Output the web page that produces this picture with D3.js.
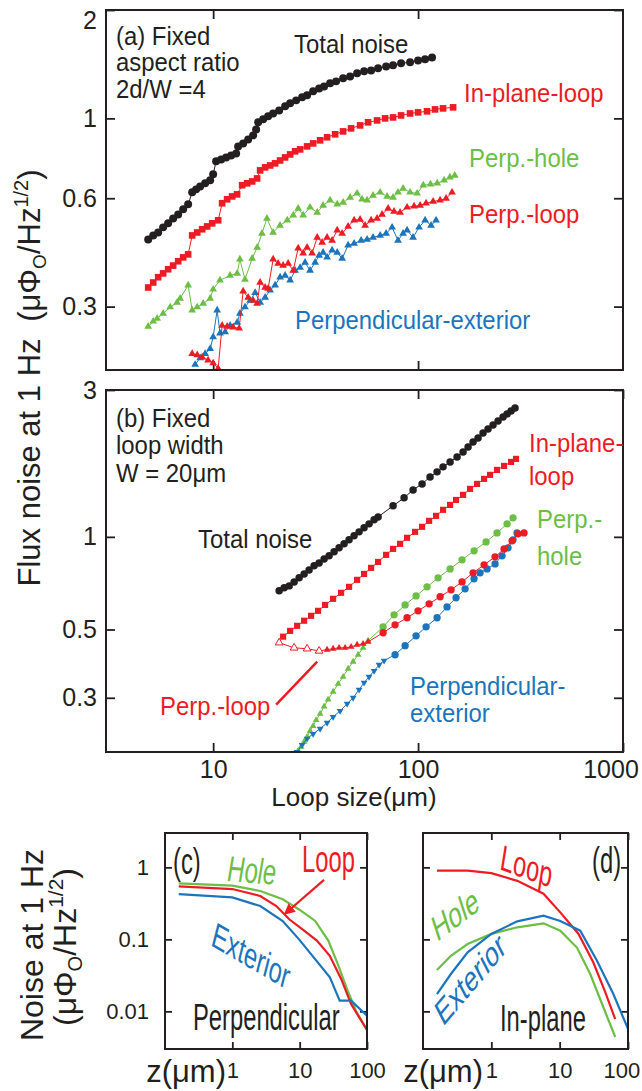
<!DOCTYPE html>
<html>
<head>
<meta charset="utf-8">
<title>Flux noise vs loop size</title>
<script src="https://cdn.jsdelivr.net/npm/d3@7"></script>
<style>
  body { margin: 0; background: #fff; }
  svg text { font-family: "Liberation Sans", Arial, Helvetica, sans-serif; }
</style>
</head>
<body>
<svg id="chart" width="642" height="1091"></svg>
<script>
// values: [loop size (um), noise at 1 Hz (uPhi0/Hz^1/2)]

// (a) fixed aspect ratio
const aTotal = [[4.82,0.461],[5.10,0.473],[5.39,0.482],[5.70,0.498],[6.03,0.511],[6.38,0.527],[6.75,0.541],[7.14,0.559],[7.55,0.577],[7.90,0.623],[8.26,0.635],[8.64,0.647],[9.14,0.660],[9.67,0.673],[10.0,0.699],[10.34,0.760],[10.94,0.769],[11.57,0.779],[12.24,0.789],[12.95,0.799],[13.24,0.836],[14.01,0.852],[14.82,0.874],[15.67,0.897],[16.21,0.932],[16.58,0.975],[17.54,0.994],[18.55,1.013],[19.62,1.032],[20.99,1.052],[22.45,1.080],[23.75,1.101],[25.41,1.122],[27.18,1.144],[28.74,1.159],[30.75,1.189],[32.89,1.211],[34.79,1.227],[37.21,1.251],[39.81,1.267],[43.07,1.292],[46.58,1.308],[50.40,1.334],[54.53,1.351],[58.98,1.359],[63.81,1.377],[69.83,1.394],[75.51,1.404],[82.60,1.422],[91.41,1.431],[100,1.449],[108.2,1.459],[117.0,1.477]];
const aInPlane = [[4.82,0.339],[5.10,0.350],[5.39,0.362],[5.70,0.371],[6.03,0.381],[6.38,0.390],[6.75,0.401],[7.14,0.411],[7.55,0.419],[7.90,0.473],[8.36,0.482],[8.84,0.492],[9.35,0.501],[9.89,0.511],[10.58,0.521],[11.06,0.581],[11.70,0.596],[12.38,0.607],[13.09,0.615],[13.85,0.652],[14.65,0.660],[15.50,0.668],[16.39,0.681],[16.95,0.717],[17.93,0.731],[18.97,0.740],[20.06,0.750],[21.22,0.764],[22.45,0.779],[23.75,0.794],[25.12,0.810],[26.57,0.820],[28.74,0.836],[30.75,0.852],[33.26,0.869],[35.98,0.886],[39.37,0.903],[43.07,0.920],[47.11,0.938],[52.13,0.956],[57.03,0.975],[63.10,0.987],[69.02,1.0],[75.51,1.006],[82.60,1.019],[91.41,1.032],[100,1.039],[110.6,1.046],[121.0,1.059],[132.4,1.066],[148.2,1.073]];
const aPerpHole = [[4.82,0.264],[5.10,0.273],[5.33,0.278],[5.70,0.287],[6.17,0.299],[6.67,0.308],[6.90,0.316],[7.55,0.344],[7.90,0.293],[8.36,0.299],[8.94,0.306],[9.67,0.316],[10.0,0.335],[10.8,0.355],[12.1,0.366],[13.1,0.371],[13.5,0.406],[14.3,0.357],[15.5,0.408],[16.4,0.438],[17.3,0.479],[18.3,0.527],[19.6,0.482],[21.2,0.504],[23.0,0.521],[24.6,0.538],[26.0,0.562],[27.5,0.538],[29.7,0.566],[32.2,0.548],[34.4,0.573],[37.2,0.592],[40.3,0.577],[43.1,0.584],[46.6,0.603],[50.4,0.619],[53.3,0.596],[56.4,0.592],[60.3,0.611],[65.3,0.623],[70.6,0.607],[75.5,0.603],[79.8,0.623],[84.5,0.639],[91.4,0.623],[98.9,0.619],[106,0.652],[115,0.656],[124,0.660],[134,0.673],[143,0.686],[151,0.694]];
const aPerpLoop = [[7.90,0.222],[8.36,0.220],[8.84,0.217],[9.45,0.213],[10.0,0.209],[10.58,0.202],[11.06,0.266],[11.70,0.264],[12.52,0.263],[13.39,0.261],[14.01,0.331],[14.82,0.318],[15.67,0.312],[16.39,0.306],[16.95,0.350],[17.93,0.339],[18.55,0.337],[19.62,0.406],[20.75,0.395],[21.95,0.390],[23.23,0.395],[24.6,0.378],[26.0,0.436],[27.5,0.422],[28.74,0.438],[30.40,0.422],[32.2,0.467],[34.02,0.452],[35.98,0.467],[38.06,0.458],[40.3,0.489],[42.6,0.479],[45.56,0.501],[48.74,0.521],[52.13,0.524],[55.14,0.504],[58.98,0.521],[63.10,0.527],[66.74,0.541],[71.42,0.562],[76.3,0.551],[81.69,0.548],[88.38,0.566],[95.61,0.570],[102.3,0.573],[109.4,0.581],[118.4,0.588],[128.1,0.592],[137.0,0.599],[146.5,0.623]];
const aPerpExt = [[8.17,0.207],[8.64,0.216],[9.14,0.222],[9.67,0.229],[10.0,0.247],[10.46,0.293],[10.8,0.253],[11.44,0.255],[12.1,0.266],[13.1,0.271],[13.5,0.287],[14.3,0.299],[15.15,0.312],[16.03,0.328],[16.95,0.308],[17.93,0.318],[18.97,0.333],[20.06,0.344],[21.22,0.362],[22.45,0.366],[23.75,0.355],[25.12,0.378],[26.57,0.385],[28.10,0.398],[29.7,0.378],[31.45,0.398],[32.89,0.416],[34.4,0.424],[35.98,0.411],[38.06,0.430],[40.3,0.424],[42.6,0.408],[45.56,0.444],[48.74,0.449],[52.72,0.458],[56.4,0.461],[60.3,0.467],[65.3,0.473],[69.83,0.479],[74.70,0.498],[79.8,0.458],[84.5,0.479],[88.38,0.489],[94.54,0.467],[101.1,0.498],[108.2,0.521],[115.7,0.504],[122.4,0.521]];

// (b) fixed loop width
const bTotal = [[20.99,0.668],[22.21,0.683],[23.49,0.693],[24.84,0.714],[26.28,0.736],[27.79,0.758],[29.39,0.781],[31.09,0.805],[32.89,0.823],[34.79,0.848],[36.80,0.868],[38.92,0.894],[41.17,0.921],[43.55,0.949],[46.06,0.978],[48.72,1.008],[51.53,1.038],[54.51,1.070],[57.67,1.102],[61.00,1.136],[63.81,1.161],[75.51,1.261],[85.45,1.339],[94.54,1.421],[104.6,1.486],[114.4,1.566],[123.8,1.626],[132.4,1.688],[143.3,1.752],[155.0,1.818],[165.8,1.888],[175.4,1.960],[185.5,2.034],[196.2,2.096],[207.5,2.176],[219.5,2.242],[232.2,2.310],[245.6,2.381],[259.8,2.453],[271.8,2.508],[284.3,2.565],[297.3,2.623]];
const bInPlane = [[21.95,0.474],[23.75,0.495],[25.69,0.514],[27.79,0.534],[30.06,0.554],[32.52,0.575],[35.18,0.601],[38.49,0.629],[42.11,0.658],[46.06,0.688],[50.40,0.725],[54.51,0.758],[58.98,0.793],[63.81,0.829],[69.83,0.874],[75.51,0.914],[81.69,0.949],[88.38,0.993],[96.69,1.038],[104.6,1.078],[113.2,1.127],[122.4,1.170],[132.4,1.224],[143.3,1.270],[153.2,1.318],[165.8,1.369],[179.3,1.432],[194.0,1.486],[209.9,1.543],[224.5,1.590],[242.8,1.650],[262.8,1.700],[284.3,1.752],[300.6,1.792]];
const bPerpLoopOpen = [[20.99,0.453],[24.84,0.436],[28.74,0.433],[32.89,0.426]];
const bPerpLoopTri = [[35.98,0.430],[38.49,0.433],[41.17,0.436],[44.05,0.436],[47.11,0.439],[50.40,0.446],[53.91,0.449],[57.03,0.456]];
const bPerpLoopDot = [[67.50,0.488],[77.23,0.518],[88.38,0.546],[100,0.575],[113.2,0.606],[128.1,0.639],[144.9,0.673],[163.9,0.714],[185.5,0.764],[209.9,0.811],[237.5,0.861],[262.8,0.914],[287.5,0.971],[307.5,1.023],[328.9,1.030]];
const bPerpHoleTri = [[25.98,0.202],[26.87,0.208],[27.79,0.216],[28.74,0.224],[29.72,0.234],[30.75,0.243],[31.80,0.254],[33.26,0.266],[34.79,0.281],[36.39,0.296],[38.49,0.314],[40.72,0.333],[43.07,0.351],[45.56,0.373],[48.19,0.393],[50.97,0.414],[53.91,0.436],[57.03,0.460]];
const bPerpHoleDot = [[67.50,0.510],[76.37,0.558],[86.44,0.601],[97.78,0.643],[110.6,0.688],[125.2,0.736],[143.3,0.787],[163.9,0.842],[187.6,0.901],[214.7,0.963],[242.8,1.030],[271.8,1.102],[290.7,1.153]];
const bPerpExtTri = [[25.69,0.200],[27.18,0.211],[28.74,0.221],[30.75,0.229],[33.26,0.238],[35.98,0.249],[38.49,0.260],[41.64,0.272],[45.05,0.287],[48.19,0.300],[51.53,0.319],[54.51,0.336],[57.67,0.351],[61.00,0.367],[64.53,0.384],[68.25,0.396]];
const bPerpExtDot = [[77.23,0.414],[86.44,0.443],[97.78,0.477],[109.4,0.510],[123.8,0.546],[138.5,0.592],[153.2,0.634],[169.6,0.678],[187.6,0.731],[200.7,0.764],[217.1,0.787],[237.5,0.817],[256.9,0.868],[274.8,0.921],[290.7,0.978],[304.1,1.030]];

// (c) perpendicular and (d) in-plane: [z (um), noise]
const cHole = [[0.16,0.60],[1,0.556],[2.6,0.47],[5.6,0.36],[9.8,0.26],[17,0.18],[26.6,0.096],[37,0.045],[52,0.019],[68.5,0.0102],[100,0.0055]];
const cLoop = [[0.16,0.545],[1,0.50],[2.6,0.40],[4.5,0.29],[7.0,0.19],[10.9,0.139],[18,0.096],[28,0.059],[41.5,0.028],[58,0.0126],[100,0.0055]];
const cExt = [[0.16,0.426],[1,0.383],[2.6,0.29],[5.6,0.18],[9.8,0.10],[28.1,0.0297],[39.3,0.0141],[58,0.0141],[100,0.0087]];
const dLoop = [[0.16,0.90],[0.45,0.90],[1,0.83],[2.4,0.65],[5.8,0.43],[10.2,0.237],[18.9,0.119],[31,0.048],[46,0.019],[65,0.0078]];
const dHole = [[0.16,0.0375],[0.256,0.059],[0.45,0.086],[1,0.119],[2.4,0.147],[5.8,0.167],[10.2,0.132],[17.9,0.077],[28,0.033],[43.6,0.0114],[65,0.0044]];
const dExt = [[0.16,0.0174],[0.256,0.033],[0.45,0.066],[1,0.119],[2.4,0.178],[5.8,0.213],[10.2,0.18],[20,0.132],[35,0.051],[61,0.0174],[100,0.0057]];

// tick values
const abTicksX = [10, 100, 1000];
const aTicksY = [0.3, 0.6, 1, 2];
const bTicksY = [0.3, 0.5, 1, 3];
const cdTicksX = [1, 10, 100];
const cdTicksY = [0.01, 0.1, 1];

const red = "#ed1c24", green = "#6cbe45", blue = "#1c75bc", black = "#231f20";

const svg = d3.select("#chart");
const defs = svg.append("defs");

const xLoop = d3.scaleLog().domain([3, 1000]).range([106, 623]);
const yA = d3.scaleLog().domain([0.2, 2]).range([370, 10]);
const yB = d3.scaleLog().domain([0.2, 3]).range([752, 390]);
const zC = d3.scaleLog().domain([0.1, 100]).range([165, 367]);
const zD = d3.scaleLog().domain([0.1, 100]).range([423, 628]);
const yCD = d3.scaleLog().domain([0.003, 3]).range([1049, 833]);

function panel(id, xs, ys, xt, yt, o) {
    const [x0, x1] = xs.range(), [y1, y0] = ys.range();
    const g = svg.append("g");
    const style = ax => {
        ax.select(".domain").remove();
        ax.selectAll("line").attr("stroke", black).attr("stroke-width", 1.8);
        ax.selectAll("text").attr("font-size", o.fs).attr("fill", black);
    };
    g.append("g").attr("transform", `translate(${x0},0)`)
        .call(d3.axisLeft(ys).tickValues(yt).tickSize(-o.tick).tickPadding(o.padY).tickFormat(o.yLab ? (d => d) : ""))
        .call(style);
    g.append("g").attr("transform", `translate(${x1},0)`)
        .call(d3.axisRight(ys).tickValues(yt).tickSize(-o.tick).tickFormat(""))
        .call(style);
    g.append("g").attr("transform", `translate(0,${y0})`)
        .call(d3.axisTop(xs).tickValues(xt).tickSize(-o.tick).tickFormat(""))
        .call(style);
    const bottom = g.append("g").attr("transform", `translate(0,${y1})`)
        .call(d3.axisBottom(xs).tickValues(xt).tickSize(-o.tick).tickPadding(o.padX).tickFormat(o.xLab ? (d => d) : ""))
        .call(style);
    defs.append("clipPath").attr("id", id)
        .append("rect").attr("x", x0).attr("y", y0).attr("width", x1 - x0).attr("height", y1 - y0);
    const plot = svg.append("g").attr("clip-path", `url(#${id})`);
    svg.append("rect").attr("x", x0).attr("y", y0).attr("width", x1 - x0).attr("height", y1 - y0)
        .attr("fill", "none").attr("stroke", black).attr("stroke-width", 2);
    return { g, plot, bottom };
}

function line(plot, xs, ys, pts, color, lw) {
    plot.append("path").datum(pts)
        .attr("d", d3.line().x(d => xs(d[0])).y(d => ys(d[1])))
        .attr("fill", "none").attr("stroke", color).attr("stroke-width", lw || 1);
}

function marks(plot, xs, ys, pts, shape, size, color, o = {}) {
    plot.append("g").selectAll("path").data(pts).join("path")
        .attr("transform", d => `translate(${xs(d[0])},${ys(d[1])})` + (o.flip ? " rotate(180)" : ""))
        .attr("d", d3.symbol(shape, size))
        .attr("fill", o.open ? "#fff" : color)
        .attr("stroke", o.open ? color : "none")
        .attr("stroke-width", 1);
}

// slightly narrow text, as in the upper panels; extra lines go below the first
function label(x, y, lines, color, lead) {
    const t = svg.append("text").attr("transform", `translate(${x},${y}) scale(0.92,1)`)
        .attr("font-size", 26).attr("fill", color || black);
    [].concat(lines).forEach((s, i) => {
        t.append("tspan").attr("x", 0).attr("dy", i ? (lead || 27) : 0).text(s);
    });
    return t;
}

// squeezed text like the narrow lower panels
function narrow(x, y, str, color, rot, italic) {
    return svg.append("text")
        .attr("transform", `translate(${x},${y}) scale(0.66,1) rotate(${rot || 0})`)
        .attr("font-size", 36).attr("fill", color || black)
        .attr("font-style", italic ? "italic" : null).text(str);
}

// ---------- panel (a) ----------
const pa = panel("clipA", xLoop, yA, [10, 100], aTicksY, { tick: 9, padY: 9, padX: 9, fs: 25, yLab: true, xLab: false });
pa.g.selectAll(".tick text").filter(d => d === 2).attr("dy", "0.72em");

line(pa.plot, xLoop, yA, aPerpHole, green);
marks(pa.plot, xLoop, yA, aPerpHole, d3.symbolTriangle, 26, green);
line(pa.plot, xLoop, yA, aPerpExt, blue);
marks(pa.plot, xLoop, yA, aPerpExt, d3.symbolTriangle, 26, blue);
line(pa.plot, xLoop, yA, aPerpLoop, red);
marks(pa.plot, xLoop, yA, aPerpLoop, d3.symbolTriangle, 26, red);
line(pa.plot, xLoop, yA, aInPlane, red);
marks(pa.plot, xLoop, yA, aInPlane, d3.symbolSquare, 44, red);
line(pa.plot, xLoop, yA, aTotal, black);
marks(pa.plot, xLoop, yA, aTotal, d3.symbolCircle, 50, black);

label(116, 45, ["(a) Fixed", "aspect ratio", "2d/W =4"], black, 26.5);
label(294, 53, "Total noise");
label(464, 102, "In-plane-loop", red);
label(469, 167, "Perp.-hole", green);
label(469, 223, "Perp.-loop", red);
label(295, 329, "Perpendicular-exterior", blue);

// ---------- panel (b) ----------
const pb = panel("clipB", xLoop, yB, abTicksX, bTicksY, { tick: 9, padY: 9, padX: 8, fs: 25, yLab: true, xLab: true });
pb.bottom.selectAll(".tick text").filter(d => d === 1000).attr("dx", "-0.5em");

line(pb.plot, xLoop, yB, bPerpHoleTri.concat(bPerpHoleDot), green);
marks(pb.plot, xLoop, yB, bPerpHoleTri, d3.symbolTriangle, 20, green);
marks(pb.plot, xLoop, yB, bPerpHoleDot, d3.symbolCircle, 42, green);
line(pb.plot, xLoop, yB, bPerpExtTri.concat(bPerpExtDot), blue);
marks(pb.plot, xLoop, yB, bPerpExtTri, d3.symbolTriangle, 20, blue, { flip: true });
marks(pb.plot, xLoop, yB, bPerpExtDot, d3.symbolCircle, 42, blue);
line(pb.plot, xLoop, yB, bPerpLoopOpen.concat(bPerpLoopTri, bPerpLoopDot), red);
marks(pb.plot, xLoop, yB, bPerpLoopOpen, d3.symbolTriangle, 26, red, { open: true });
marks(pb.plot, xLoop, yB, bPerpLoopTri, d3.symbolTriangle, 20, red);
marks(pb.plot, xLoop, yB, bPerpLoopDot, d3.symbolCircle, 42, red);
line(pb.plot, xLoop, yB, bInPlane, red);
marks(pb.plot, xLoop, yB, bInPlane, d3.symbolSquare, 38, red);
line(pb.plot, xLoop, yB, bTotal, black);
marks(pb.plot, xLoop, yB, bTotal, d3.symbolCircle, 44, black);

// pointer from "Perp.-loop" label
svg.append("line")
    .attr("x1", xLoop(20.3)).attr("y1", yB(0.285))
    .attr("x2", xLoop(32.2)).attr("y2", yB(0.393))
    .attr("stroke", red).attr("stroke-width", 2.5);

label(116, 427, ["(b) Fixed", "loop width", "W = 20μm"], black, 27.5);
label(198, 548, "Total noise");
label(529, 452, ["In-plane-", "loop"], red, 33);
label(537, 528, ["Perp.-", "hole"], green, 37);
label(160, 715, "Perp.-loop", red);
label(410, 695, ["Perpendicular-", "exterior"], blue);

svg.append("text").attr("x", 354).attr("y", 806).attr("text-anchor", "middle")
    .attr("font-size", 26).attr("fill", black).text("Loop size(μm)");

// shared y label for (a) and (b)
const yl = svg.append("text").attr("transform", "translate(40,378) rotate(-90)")
    .attr("text-anchor", "middle").attr("font-size", 31).attr("fill", black);
yl.append("tspan").text("Flux noise at 1 Hz ");
yl.append("tspan").attr("dx", 8).text("(μΦ");
yl.append("tspan").attr("font-size", 19).attr("dy", 6).text("O");
yl.append("tspan").attr("dy", -6).text("/Hz");
yl.append("tspan").attr("font-size", 20).attr("dy", -12).text("1/2");
yl.append("tspan").attr("dy", 12).text(")");

// ---------- panel (c) ----------
const pc = panel("clipC", zC, yCD, cdTicksX, cdTicksY, { tick: 7, padY: 16, padX: 13, fs: 22, yLab: true, xLab: true });
line(pc.plot, zC, yCD, cHole, green, 2.2);
line(pc.plot, zC, yCD, cLoop, red, 2.2);
line(pc.plot, zC, yCD, cExt, blue, 2.2);

defs.append("marker").attr("id", "head").attr("viewBox", "0 0 10 10")
    .attr("refX", 9).attr("refY", 5).attr("markerWidth", 5).attr("markerHeight", 5)
    .attr("orient", "auto")
    .append("path").attr("d", "M0,0L10,5L0,10z").attr("fill", red);
svg.append("line")
    .attr("x1", zC(23)).attr("y1", yCD(0.67))
    .attr("x2", zC(6)).attr("y2", yCD(0.225))
    .attr("stroke", red).attr("stroke-width", 2.2).attr("marker-end", "url(#head)");

narrow(173, 874, "(c)");
narrow(227, 881, "Hole", green, 3, true);
narrow(302, 872, "Loop", red);
narrow(210, 945, "Exterior", blue, 21);
narrow(193, 1030, "Perpendicular");
svg.append("text").attr("x", 226).attr("y", 1082).attr("text-anchor", "end")
    .attr("font-size", 31).attr("fill", black).text("z(μm)");

// ---------- panel (d) ----------
const pd = panel("clipD", zD, yCD, cdTicksX, cdTicksY, { tick: 7, padY: 16, padX: 13, fs: 22, yLab: false, xLab: true });
pd.bottom.selectAll(".tick text").filter(d => d === 100).attr("dx", "-0.3em");
line(pd.plot, zD, yCD, dHole, green, 2.2);
line(pd.plot, zD, yCD, dLoop, red, 2.2);
line(pd.plot, zD, yCD, dExt, blue, 2.2);

narrow(592, 873, "(d)");
narrow(499, 869, "Loop", red, 13.5);
narrow(437, 942, "Hole", green, -26.5);
narrow(443, 1027, "Exterior", blue, -38);
narrow(500, 1031, "In-plane");
svg.append("text").attr("x", 483).attr("y", 1082).attr("text-anchor", "end")
    .attr("font-size", 31).attr("fill", black).text("z(μm)");

// y label for (c) and (d)
const nl = svg.append("g").attr("fill", black);
nl.append("text").attr("transform", "translate(43,945) rotate(-90)")
    .attr("text-anchor", "middle").attr("font-size", 32).text("Noise at 1 Hz");
const nl2 = nl.append("text").attr("transform", "translate(76,947) rotate(-90)")
    .attr("text-anchor", "middle").attr("font-size", 32);
nl2.append("tspan").text("(μΦ");
nl2.append("tspan").attr("font-size", 20).attr("dy", 6).text("O");
nl2.append("tspan").attr("dy", -6).text("/Hz");
nl2.append("tspan").attr("font-size", 21).attr("dy", -13).text("1/2");
nl2.append("tspan").attr("dy", 13).text(")");
</script>
</body>
</html>
